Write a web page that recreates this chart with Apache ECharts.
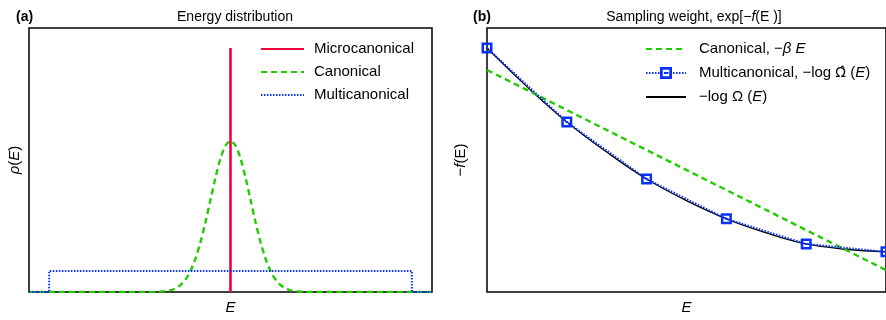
<!DOCTYPE html>
<html>
<head>
<meta charset="utf-8">
<script src="https://cdn.jsdelivr.net/npm/echarts@6/dist/echarts.min.js"></script>
<style>
html,body{margin:0;padding:0;background:#fff;}
#c{width:886px;height:320px;}
</style>
</head>
<body>
<div id="c"></div>
<script>
// ---------- Panel (a): energy distribution ----------
const microE = [0, 0];
const microRho = [0, 0.924];
const canonE = [-10, -4, -3.5, -3, -2.75, -2.5, -2.25, -2, -1.75, -1.5, -1.25, -1, -0.75, -0.5, -0.25, 0,
                0.25, 0.5, 0.75, 1, 1.25, 1.5, 1.75, 2, 2.25, 2.5, 2.75, 3, 3.5, 4, 10];
const canonRho = [0, 0.0002, 0.0013, 0.0063, 0.013, 0.0251, 0.0455, 0.0774, 0.124, 0.186, 0.262, 0.347, 0.432, 0.505, 0.554, 0.572,
                  0.554, 0.505, 0.432, 0.347, 0.262, 0.186, 0.124, 0.0774, 0.0455, 0.0251, 0.013, 0.0063, 0.0013, 0.0002, 0];
const mucaE = [-10, -9, -9, 9, 9, 10];
const mucaRho = [0, 0, 0.08, 0.08, 0, 0];

// ---------- Panel (b): sampling weight ----------
const weightCanonE = [0, 1];
const weightCanon = [0.841, 0.083];
const weightMucaE = [0, 0.2, 0.4, 0.6, 0.8, 1.0];
const weightMuca = [0.924, 0.644, 0.428, 0.277, 0.182, 0.152];
const weightExactE = [0, 0.1, 0.2, 0.3, 0.4, 0.5, 0.6, 0.7, 0.8, 0.9, 1.0];
const weightExact = [0.924, 0.778, 0.644, 0.530, 0.428, 0.346, 0.277, 0.224, 0.182, 0.162, 0.152];

const RED = '#f5003d', GREEN = '#22cc00', BLUE = '#0a30ff';
const FONT = 'Liberation Sans, Arial, sans-serif';
const pairs = (xs, ys) => xs.map((x, i) => [x, ys[i]]);
const markerPath = 'path://M0,0H11V11H0Z M2.5,2.5V8.5H8.5V2.5Z M4.5,4.5H6.5V6.5H4.5Z';

const chart = echarts.init(document.getElementById('c'), null, {renderer: 'canvas'});
const hiddenAxis = {
  axisLine: {show: false}, axisTick: {show: false}, axisLabel: {show: false}, splitLine: {show: false}
};
const rich = {
  i: {fontStyle: 'italic', fontFamily: FONT, fontSize: 15, color: '#000'},
  o: {fontFamily: 'DejaVu Sans', fontSize: 14, color: '#000'}
};
const richT = {
  i: {fontStyle: 'italic', fontFamily: FONT, fontSize: 14, color: '#000'}
};
const noSym = {opacity: 0};

chart.setOption({
  animation: false,
  backgroundColor: '#fff',
  textStyle: {fontFamily: FONT},
  title: [
    {text: '(a)', left: 11, top: 5, textStyle: {fontSize: 14, fontWeight: 'bold', color: '#000', fontFamily: FONT}},
    {text: 'Energy distribution', left: 230, top: 5, textAlign: 'center',
     textStyle: {fontSize: 14, fontWeight: 'normal', color: '#000', fontFamily: FONT}},
    {text: '(b)', left: 468, top: 5, textStyle: {fontSize: 14, fontWeight: 'bold', color: '#000', fontFamily: FONT}},
    {text: 'Sampling weight, exp[\u2212{i|f}(E )]', left: 689, top: 5, textAlign: 'center',
     textStyle: {fontSize: 14, fontWeight: 'normal', color: '#000', fontFamily: FONT, rich: richT}}
  ],
  grid: [
    {left: 29, top: 28, width: 403, height: 264, show: true, borderColor: '#000', borderWidth: 1.5, backgroundColor: 'transparent'},
    {left: 487, top: 28, width: 403, height: 264, show: true, borderColor: '#000', borderWidth: 1.5, backgroundColor: 'transparent'}
  ],
  xAxis: [
    Object.assign({type: 'value', gridIndex: 0, min: -10, max: 10, name: '{i|E}', nameLocation: 'middle', nameGap: 8,
      nameTextStyle: {fontSize: 15, color: '#000', rich: rich, verticalAlign: 'top'}}, hiddenAxis),
    Object.assign({type: 'value', gridIndex: 1, min: 0, max: 1, name: '{i|E}', nameLocation: 'middle', nameGap: 8,
      nameTextStyle: {fontSize: 15, color: '#000', rich: rich, verticalAlign: 'top'}}, hiddenAxis)
  ],
  yAxis: [
    Object.assign({type: 'value', gridIndex: 0, min: 0, max: 1, name: '{i|\u03c1}({i|E})',
      nameLocation: 'middle', nameGap: 7, nameRotate: 90,
      nameTextStyle: {fontSize: 15, color: '#000', rich: rich}}, hiddenAxis),
    Object.assign({type: 'value', gridIndex: 1, min: 0, max: 1, name: '\u2212{i|f}(E)',
      nameLocation: 'middle', nameGap: 19, nameRotate: 90,
      nameTextStyle: {fontSize: 15, color: '#000', rich: rich}}, hiddenAxis)
  ],
  legend: [
    {
      data: [
        {name: 'Microcanonical', itemStyle: noSym},
        {name: 'Canonical', itemStyle: noSym},
        {name: 'Multicanonical', itemStyle: noSym}
      ],
      orient: 'vertical', left: 260, top: 41, padding: 0, itemWidth: 43, itemHeight: 14, itemGap: 7,
      textStyle: {fontSize: 15, color: '#000', fontFamily: FONT, lineHeight: 16, padding: [0, 0, 0, 5]},
      selectedMode: false
    },
    {
      data: [
        {name: 'Canonical, \u2212\u03b2E', itemStyle: noSym},
        {name: 'Multicanonical, \u2212log\u03a9\u0302(E)'},
        {name: '\u2212log\u03a9(E)', itemStyle: noSym}
      ],
      orient: 'vertical', left: 645, top: 41, padding: 0, itemWidth: 40, itemHeight: 15, itemGap: 8,
      formatter: function (name) {
        if (name.indexOf('\u03b2') >= 0) return 'Canonical, \u2212{i|\u03b2 E}';
        if (name.indexOf('\u0302') >= 0) return 'Multicanonical, \u2212log {o|\u03a9\u0302} ({i|E})';
        return '\u2212log \u03a9 ({i|E})';
      },
      textStyle: {fontSize: 15, color: '#000', fontFamily: FONT, lineHeight: 16, padding: [0, 0, 0, 8], rich: rich},
      selectedMode: false
    }
  ],
  series: [
    {name: 'Canonical', type: 'line', xAxisIndex: 0, yAxisIndex: 0, data: pairs(canonE, canonRho),
     showSymbol: false, symbol: 'none', smooth: 0.3, color: GREEN,
     lineStyle: {color: GREEN, width: 2.4, type: [6, 4]}},
    {name: 'Microcanonical', type: 'line', xAxisIndex: 0, yAxisIndex: 0, data: pairs(microE, microRho),
     showSymbol: false, symbol: 'none', color: RED, lineStyle: {color: RED, width: 2.6}},
    {name: 'Multicanonical', type: 'line', xAxisIndex: 0, yAxisIndex: 0, data: pairs(mucaE, mucaRho),
     showSymbol: false, symbol: 'none', color: BLUE, lineStyle: {color: BLUE, width: 2, type: [1.5, 1.5]}},

    {name: '\u2212log\u03a9(E)', type: 'line', xAxisIndex: 1, yAxisIndex: 1, data: pairs(weightExactE, weightExact),
     showSymbol: false, symbol: 'none', smooth: 0.4, color: '#000', lineStyle: {color: '#000', width: 1.3}},
    {name: 'Canonical, \u2212\u03b2E', type: 'line', xAxisIndex: 1, yAxisIndex: 1, data: pairs(weightCanonE, weightCanon),
     showSymbol: false, symbol: 'none', color: GREEN, lineStyle: {color: GREEN, width: 2.4, type: [6, 4]}},
    {name: 'Multicanonical, \u2212log\u03a9\u0302(E)', type: 'line', xAxisIndex: 1, yAxisIndex: 1, data: pairs(weightMucaE, weightMuca),
     showSymbol: true, symbol: markerPath, symbolSize: 11, clip: false, color: BLUE,
     itemStyle: {color: BLUE}, lineStyle: {color: BLUE, width: 2, type: [1.5, 1.5]}}
  ]
});
</script>
</body>
</html>
